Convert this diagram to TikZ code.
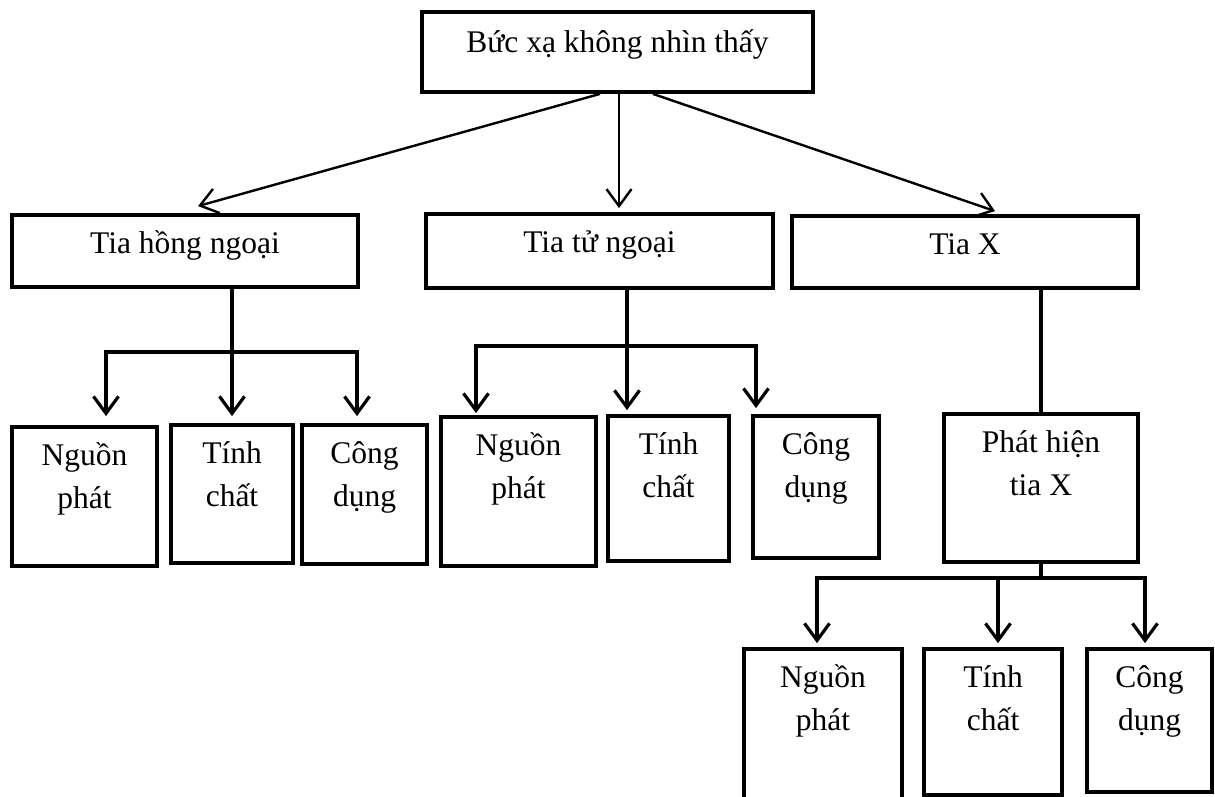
\documentclass[tikz,border=0pt]{standalone}
\usepackage{fontspec}
\setmainfont{Liberation Serif}
\usetikzlibrary{arrows.meta,fit}
\newcommand\mystrut{\rule{0pt}{30pt}}
\begin{document}
\begin{tikzpicture}[x=1pt,y=-1pt,
  box/.style={draw, line width=3.8pt, inner sep=0pt, rectangle},
  lbl/.style={font=\fontsize{31.5}{43}\selectfont, align=center, inner sep=0pt, outer sep=0pt, anchor=north},
  conn/.style={line width=3.2pt},
  arr/.style={conn, -{Straight Barb[length=17pt,width=25pt]}},
  arrt/.style={line width=2.4pt, -{Straight Barb[length=17pt,width=25pt]}}]
\clip (0,0) rectangle (1215,796);
% boxes
\node[box, fit={(422,12)(813,92)}] (top) {};
\node[box, fit={(12,215)(358,287)}] (hong) {};
\node[box, fit={(426,214)(773,288)}] (tu) {};
\node[box, fit={(792,216)(1138,288)}] (tx) {};
\node[box, fit={(12,427)(157,566)}] (h1) {};
\node[box, fit={(171,425)(293,563)}] (h2) {};
\node[box, fit={(302,425)(427,564)}] (h3) {};
\node[box, fit={(441,417)(596,566)}] (t1) {};
\node[box, fit={(608,416)(729,561)}] (t2) {};
\node[box, fit={(753,416)(879,558)}] (t3) {};
\node[box, fit={(944,414)(1138,562)}] (ph) {};
\node[box, fit={(744,649)(902,802)}] (x1) {};
\node[box, fit={(924,649)(1062,795)}] (x2) {};
\node[box, fit={(1087,649)(1212,792)}] (x3) {};
% texts
\node[lbl] at ([yshift=-12pt]top.north) {\mystrut Bức xạ không nhìn thấy};
\node[lbl] at ([yshift=-10pt]hong.north) {\mystrut Tia hồng ngoại};
\node[lbl] at ([yshift=-10pt]tu.north) {\mystrut Tia tử ngoại};
\node[lbl] at ([yshift=-10pt]tx.north) {\mystrut Tia X};
\node[lbl] at ([yshift=-10pt]h1.north) {\mystrut Nguồn\\phát};
\node[lbl] at ([yshift=-10pt]h2.north) {\mystrut Tính\\chất};
\node[lbl] at ([yshift=-10pt]h3.north) {\mystrut Công\\dụng};
\node[lbl] at ([yshift=-10pt]t1.north) {\mystrut Nguồn\\phát};
\node[lbl] at ([yshift=-10pt]t2.north) {\mystrut Tính\\chất};
\node[lbl] at ([yshift=-10pt]t3.north) {\mystrut Công\\dụng};
\node[lbl] at ([yshift=-10pt]ph.north) {\mystrut Phát hiện\\tia X};
\node[lbl] at ([yshift=-10pt]x1.north) {\mystrut Nguồn\\phát};
\node[lbl] at ([yshift=-10pt]x2.north) {\mystrut Tính\\chất};
\node[lbl] at ([yshift=-10pt]x3.north) {\mystrut Công\\dụng};
% top arrows
\draw[arrt] ([xshift=-17.5pt]top.south) -- ([xshift=13pt,yshift=7pt]hong.north);
\draw[arrt] ([xshift=1.5pt]top.south) -- ([xshift=19.5pt,yshift=4pt]tu.north);
\draw[arrt] ([xshift=35.5pt]top.south) -- ([xshift=30pt,yshift=3pt]tx.north);
% left subtree
\coordinate (hbM) at (232,352);
\coordinate (hbL) at (106,352);
\coordinate (hbR) at (357,352);
\draw[arr] (hbM |- hong.south) -- ([yshift=7pt]hbM |- h2.north);
\draw[arr] (hbM) -- (hbL) -- ([yshift=9pt]hbL |- h1.north);
\draw[arr] (hbM) -- (hbR) -- ([yshift=7pt]hbR |- h3.north);
% middle subtree
\coordinate (tbM) at (627,346);
\coordinate (tbL) at (476,346);
\coordinate (tbR) at (756,346);
\draw[arr] ([yshift=4pt]tbM |- tu.south) -- ([yshift=4pt]tbM |- t2.north);
\draw[arr] (tbM) -- (tbL) -- ([yshift=2pt]tbL |- t1.north);
\draw[arr] (tbM) -- (tbR) -- ([yshift=6pt]tbR |- t3.north);
% right subtree
\draw[conn] (ph.north |- tx.south) -- (ph.north);
\coordinate (xbM) at (1041,578);
\coordinate (xbL) at (817,578);
\coordinate (xbC) at (998,578);
\coordinate (xbR) at (1145,578);
\draw[conn] (ph.south) -- (xbM);
\draw[arr] (xbM) -- (xbL) -- ([yshift=4pt]xbL |- x1.north);
\draw[arr] (xbM) -- (xbR) -- ([yshift=4pt]xbR |- x3.north);
\draw[arr] (xbC) -- ([yshift=4pt]xbC |- x2.north);
\end{tikzpicture}
\end{document}
